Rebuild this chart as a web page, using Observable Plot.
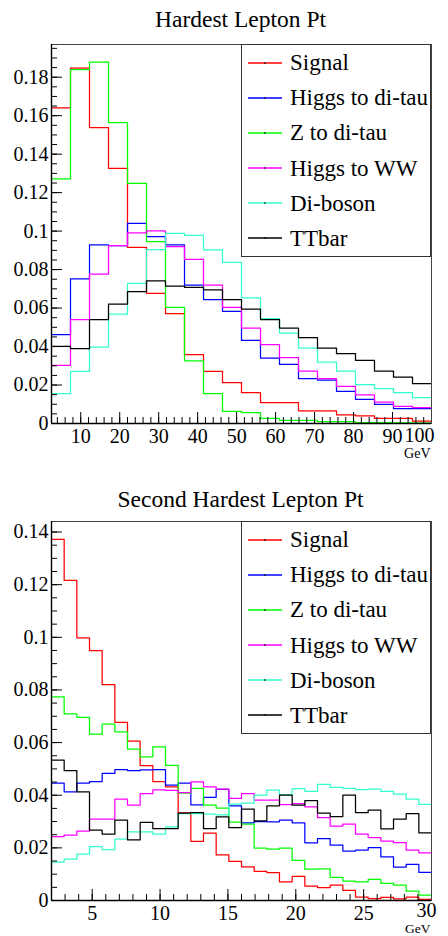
<!DOCTYPE html>
<html><head><meta charset="utf-8">
<script src="https://cdn.jsdelivr.net/npm/d3@7"></script>
<script src="https://cdn.jsdelivr.net/npm/@observablehq/plot@0.6"></script>
<style>
html,body{margin:0;padding:0;background:#fff;}
#root{position:relative;width:448px;height:936px;overflow:hidden;font-family:"Liberation Serif","DejaVu Serif",serif;background:#fff;}
.pad{position:absolute;left:0;width:448px;}
svg text{font-family:"Liberation Serif","DejaVu Serif",serif !important;}
.legend{position:absolute;left:241px;width:190px;height:213px;box-sizing:border-box;border:1px solid #333;background:#fff;display:flex;flex-direction:column;font-family:"Liberation Serif","DejaVu Serif",serif;}
.row{flex:1;display:flex;align-items:center;white-space:nowrap;font-size:23px;color:#000;line-height:1;font-family:"Liberation Serif","DejaVu Serif",serif;}
.row svg{display:block;margin-left:6px;margin-right:8px;flex:none;}
</style>
</head><body>
<div id="root"></div>
<script>
// ---------- data ----------
const seriesNames = ["Signal", "Higgs to di-tau", "Z to di-tau", "Higgs to WW", "Di-boson", "TTbar"];
const seriesColors = ["#ff0000", "#0000ff", "#00ff00", "#ff00ff", "#33ffcc", "#000000"];

// Hardest lepton pt: 20 bins from 2.5 to 100 GeV
const topTitle = "Hardest Lepton Pt";
const topRange = [2.5, 100];
const topSignal   = [0.1640,0.1847,0.1538,0.1326,0.0916,0.0677,0.0571,0.0358,0.0271,0.0212,0.0160,0.0109,0.0109,0.0066,0.0066,0.0045,0.0040,0.0026,0.0026,0.0012];
const topHtautau  = [0.0462,0.0752,0.0929,0.0925,0.1040,0.0972,0.0928,0.0719,0.0644,0.0583,0.0432,0.0340,0.0307,0.0233,0.0226,0.0167,0.0125,0.0099,0.0077,0.0077];
const topZtautau  = [0.1272,0.1839,0.1878,0.1564,0.1248,0.0946,0.0604,0.0325,0.0155,0.0063,0.0057,0.0026,0.0016,0.0016,0.0010,0.0010,0.0005,0.0004,0.0003,0.0003];
const topHWW      = [0.0302,0.0540,0.0776,0.0925,0.0991,0.1001,0.0920,0.0853,0.0719,0.0603,0.0496,0.0410,0.0342,0.0272,0.0233,0.0193,0.0149,0.0111,0.0089,0.0082];
const topDiboson  = [0.0155,0.0271,0.0397,0.0568,0.0728,0.0904,0.0988,0.0978,0.0902,0.0837,0.0653,0.0545,0.0470,0.0392,0.0319,0.0272,0.0202,0.0181,0.0161,0.0134];
const topTTbar    = [0.0401,0.0389,0.0540,0.0620,0.0686,0.0741,0.0714,0.0708,0.0694,0.0644,0.0594,0.0540,0.0496,0.0446,0.0392,0.0363,0.0328,0.0272,0.0241,0.0207];
const topXTicks = [10,20,30,40,50,60,70,80,90,100];
const topYTicks = [0,0.02,0.04,0.06,0.08,0.1,0.12,0.14,0.16,0.18];
const topYMax = 0.197;

// Second hardest lepton pt: 30 bins from 2 to 30 GeV
const botTitle = "Second Hardest Lepton Pt";
const botRange = [2, 30];
const botSignal   = [0.1372,0.1216,0.0998,0.0949,0.0820,0.0677,0.0606,0.0512,0.0452,0.0432,0.0333,0.0225,0.0256,0.0173,0.0149,0.0128,0.0111,0.0106,0.0071,0.0092,0.0055,0.0049,0.0058,0.0038,0.0013,0.0007,0.0012,0.0006,0.0013,0.0004];
const botHtautau  = [0.0446,0.0413,0.0446,0.0452,0.0483,0.0497,0.0493,0.0496,0.0497,0.0438,0.0446,0.0363,0.0392,0.0422,0.0360,0.0295,0.0300,0.0299,0.0305,0.0295,0.0219,0.0235,0.0210,0.0188,0.0191,0.0201,0.0166,0.0127,0.0137,0.0107];
const botZtautau  = [0.0774,0.0709,0.0696,0.0632,0.0670,0.0641,0.0575,0.0546,0.0584,0.0513,0.0408,0.0426,0.0362,0.0351,0.0298,0.0290,0.0199,0.0195,0.0199,0.0152,0.0119,0.0120,0.0088,0.0074,0.0071,0.0080,0.0065,0.0058,0.0036,0.0020];
const botHWW      = [0.0243,0.0248,0.0264,0.0309,0.0309,0.0385,0.0362,0.0406,0.0420,0.0418,0.0410,0.0451,0.0432,0.0423,0.0388,0.0406,0.0381,0.0381,0.0364,0.0368,0.0356,0.0315,0.0283,0.0290,0.0252,0.0239,0.0226,0.0220,0.0191,0.0181];
const botDiboson  = [0.0146,0.0157,0.0176,0.0205,0.0193,0.0233,0.0261,0.0261,0.0252,0.0280,0.0330,0.0330,0.0328,0.0325,0.0366,0.0370,0.0400,0.0419,0.0402,0.0425,0.0415,0.0441,0.0430,0.0426,0.0421,0.0423,0.0415,0.0404,0.0385,0.0365];
const botTTbar    = [0.0533,0.0493,0.0413,0.0267,0.0252,0.0305,0.0230,0.0297,0.0273,0.0273,0.0332,0.0334,0.0273,0.0318,0.0277,0.0347,0.0303,0.0360,0.0400,0.0362,0.0379,0.0332,0.0319,0.0400,0.0334,0.0343,0.0272,0.0309,0.0330,0.0257];
const botXTicks = [5,10,15,20,25,30];
const botYTicks = [0,0.02,0.04,0.06,0.08,0.1,0.12,0.14];
const botYMax = 0.144;
const xUnit = "GeV";

// ---------- drawing ----------
const root = document.getElementById("root");
const W = 448, ML = 51, MR = 17;
const FONT = "'Liberation Serif', 'DejaVu Serif', serif";
const SVGNS = "http://www.w3.org/2000/svg";

function buildRows(range, lists) {
  const rows = [];
  lists.forEach((vals, s) => {
    const n = vals.length, step = (range[1] - range[0]) / n;
    vals.forEach((v, i) => rows.push({name: seriesNames[s], x: range[0] + i * step, y: v}));
    rows.push({name: seriesNames[s], x: range[1], y: vals[n - 1]});
  });
  return rows;
}

function panel(o) {
  const pw = W - ML - MR, ph = o.height - o.mt - o.mb;
  const rows = buildRows(o.range, o.lists);
  const yMinor = d3.range(0, o.yMax, 0.005);
  const xMinor = d3.range(Math.ceil(o.range[0] / o.xMinorStep) * o.xMinorStep, o.range[1], o.xMinorStep);
  const fmt = d => String(d);
  const marks = [
    Plot.line(rows, {x: "x", y: "y", z: "name", stroke: "name", curve: "step-after", strokeWidth: 1.25}),
    Plot.tickY(yMinor, {y: d => d, insetRight: pw - 6, stroke: "#000"}),
    Plot.tickY(o.yTicks, {y: d => d, insetRight: pw - 11, stroke: "#000"}),
    Plot.tickX(xMinor, {x: d => d, insetTop: ph - 6, stroke: "#000"}),
    Plot.tickX(o.xTicks, {x: d => d, insetTop: ph - 11, stroke: "#000"}),
    Plot.axisY({ticks: o.yTicks, tickSize: 0, tickPadding: 3, tickFormat: fmt, fontSize: 20, fontFamily: FONT, label: null}),
    Plot.axisX({ticks: o.xTicks.slice(0, -1), tickSize: 0, tickPadding: 5, tickFormat: fmt, fontSize: 20, fontFamily: FONT, label: null}),
    Plot.axisX({ticks: o.xTicks.slice(-1), tickSize: 0, tickPadding: 5, tickFormat: fmt, fontSize: 20, fontFamily: FONT, label: null, dx: o.lastDx, dy: o.lastDy}),
    Plot.frame({stroke: "#444", strokeWidth: 1}),
    Plot.ruleX([o.range[0]], {stroke: "#000", strokeWidth: 1.4}),
    Plot.ruleY([0], {stroke: "#000", strokeWidth: 1.4}),
    Plot.text([xUnit], {frameAnchor: "bottom-right", dx: -1, dy: o.unitDy, textAnchor: "end", lineAnchor: "middle", fontSize: o.unitSize, fontFamily: FONT}),
    Plot.text([o.title], {frameAnchor: "top", dx: 240 - (ML + pw / 2), dy: o.titleDy, lineAnchor: "middle", fontSize: 23.5, fontFamily: FONT})
  ];
  const svg = Plot.plot({
    width: W, height: o.height,
    marginLeft: ML, marginRight: MR, marginTop: o.mt, marginBottom: o.mb,
    style: {fontFamily: FONT, fontSize: "20px", background: "#fff", color: "#000", overflow: "visible"},
    x: {domain: o.range, axis: null},
    y: {domain: [0, o.yMax], axis: null},
    color: {domain: seriesNames, range: seriesColors},
    marks
  });
  const pad = document.createElement("div");
  pad.className = "pad";
  pad.style.top = o.top + "px";
  pad.style.height = o.height + "px";
  pad.appendChild(svg);
  // legend
  const lg = document.createElement("div");
  lg.className = "legend";
  lg.style.top = o.mt + "px";
  seriesNames.forEach((n, i) => {
    const r = document.createElement("div");
    r.className = "row";
    const sw = document.createElementNS(SVGNS, "svg");
    sw.setAttribute("width", "34"); sw.setAttribute("height", "6");
    const ln = document.createElementNS(SVGNS, "line");
    ln.setAttribute("x1", "0"); ln.setAttribute("x2", "34");
    ln.setAttribute("y1", "3"); ln.setAttribute("y2", "3");
    ln.setAttribute("stroke", seriesColors[i]); ln.setAttribute("stroke-width", "1.3");
    const mk = document.createElementNS(SVGNS, "line");
    mk.setAttribute("x1", "17"); mk.setAttribute("x2", "17");
    mk.setAttribute("y1", "2"); mk.setAttribute("y2", "4");
    mk.setAttribute("stroke", "#000"); mk.setAttribute("stroke-width", "1");
    sw.appendChild(ln); sw.appendChild(mk);
    const t = document.createElement("span");
    t.textContent = n;
    r.appendChild(sw); r.appendChild(t);
    lg.appendChild(r);
  });
  pad.appendChild(lg);
  root.appendChild(pad);
}

panel({top: 0, height: 468, mt: 44, mb: 45, range: topRange, yMax: topYMax,
  lists: [topSignal, topHtautau, topZtautau, topHWW, topDiboson, topTTbar],
  xTicks: topXTicks, yTicks: topYTicks, xMinorStep: 2, lastDx: -12, lastDy: -1, unitDy: 30, unitSize: 14, title: topTitle, titleDy: -25});
panel({top: 468, height: 468, mt: 53, mb: 36, range: botRange, yMax: botYMax,
  lists: [botSignal, botHtautau, botZtautau, botHWW, botDiboson, botTTbar],
  xTicks: botXTicks, yTicks: botYTicks, xMinorStep: 1, lastDx: -5, lastDy: -3, unitDy: 28, unitSize: 13.5, title: botTitle, titleDy: -22});
</script>
</body></html>
